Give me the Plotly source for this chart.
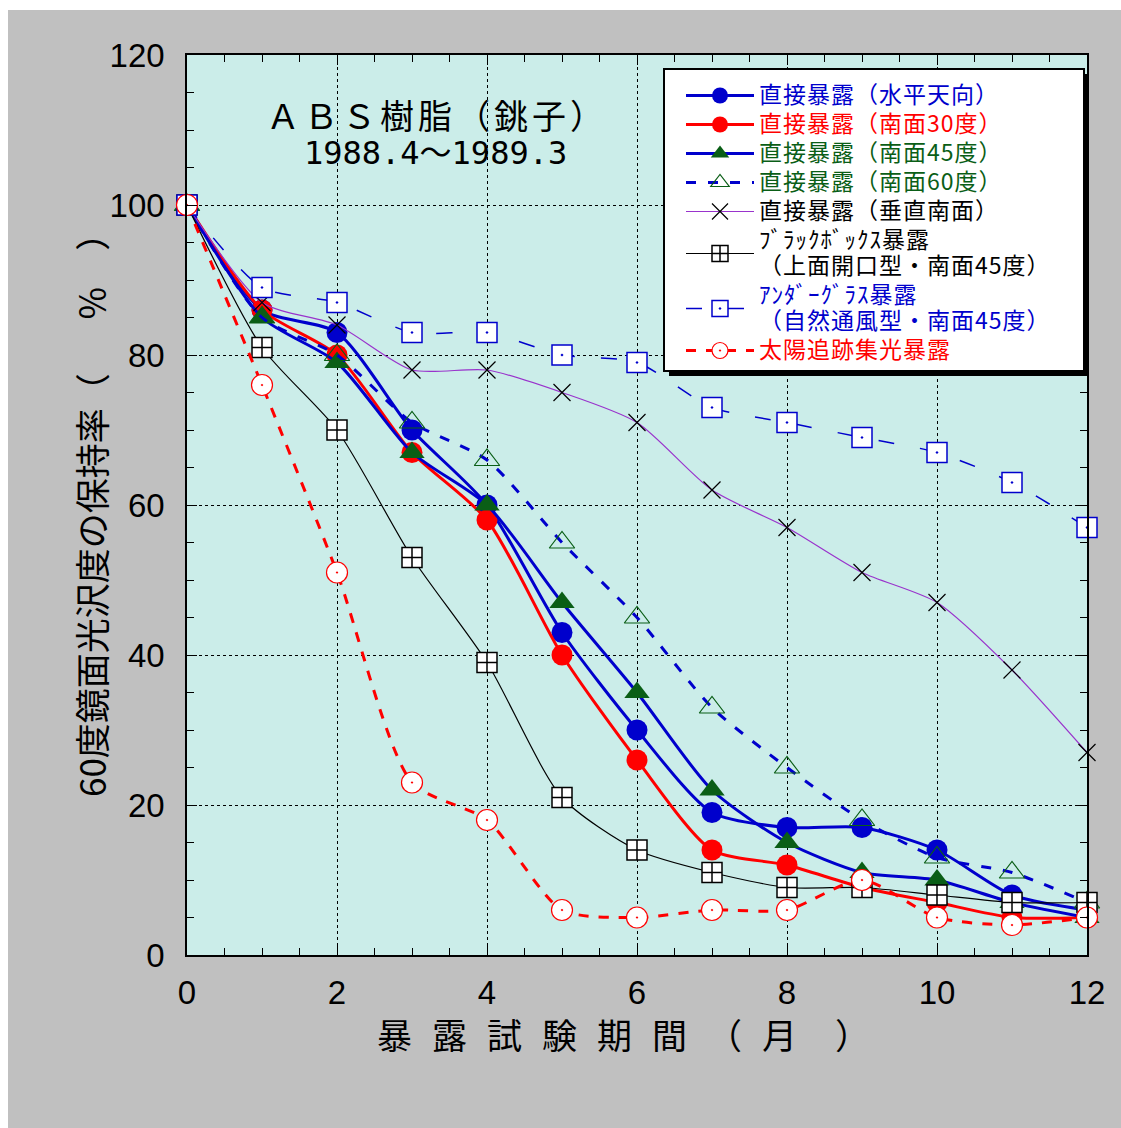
import plotly.graph_objects as go

months = list(range(13))

horiz = [100, 86, 83, 70, 60, 43, 30, 19, 17, 17, 14, 8, 6]
south30 = [100, 86, 80, 67, 58, 40, 26, 14, 12, 9, 7, 5, 5]
south45 = [100, 85, 79, 67, 60, 47, 35, 22, 15, 11, 10, 7, 5]
south60 = [100, 85, 80, 71, 66, 55, 45, 33, 25, 18, 13, 11, 7]
vertical = [100, 87, 84, 78, 78, 75, 71, 62, 57, 51, 47, 38, 27]
blackbox = [100, 81, 70, 53, 39, 21, 14, 11, 9, 9, 8, 7, 7]
underglass = [100, 89, 87, 83, 83, 80, 79, 73, 71, 69, 67, 63, 57]
suntrack = [100, 76, 51, 23, 18, 6, 5, 6, 6, 10, 5, 4, 5]

x_ticks = [0, 2, 4, 6, 8, 10, 12]
y_ticks = [0, 20, 40, 60, 80, 100, 120]

BLUE = "#0000cc"
RED = "#ff0000"
GREEN = "#0a5e16"
PURPLE = "#9933cc"
CJK = "Noto Sans CJK JP"

# page offset of the figure (body margin)
OX, OY = 8, 10
W, H = 1113, 1118
L, R, T, B = 187 - OX, 1087 - OX, 55 - OY, 955 - OY


def px(xp):
    """page x pixel -> paper x"""
    return (xp - OX - L) / (R - L)


def py(yp):
    """page y pixel -> paper y"""
    return (B - (yp - OY)) / (B - T)


LS = "font-size:23px;letter-spacing:1px"


def name(txt, color):
    return f'<span style="color:{color};{LS}">{txt}</span>'


fig = go.Figure()
sm = 0.7
fig.add_trace(go.Scatter(
    x=months, y=horiz, mode="lines+markers", cliponaxis=False,
    name=name("直接暴露（水平天向）", BLUE),
    line=dict(color=BLUE, width=3, shape="spline", smoothing=sm),
    marker=dict(symbol="circle", size=21, color=BLUE)))
fig.add_trace(go.Scatter(
    x=months, y=south30, mode="lines+markers", cliponaxis=False,
    name=name("直接暴露（南面30度）", RED),
    line=dict(color=RED, width=3, shape="spline", smoothing=sm),
    marker=dict(symbol="circle", size=21, color=RED)))
fig.add_trace(go.Scatter(
    x=months, y=south45, mode="lines+markers", cliponaxis=False,
    name=name("直接暴露（南面45度）", GREEN),
    line=dict(color=BLUE, width=3, shape="spline", smoothing=sm),
    marker=dict(symbol="triangle-up", size=22, color=GREEN)))
fig.add_trace(go.Scatter(
    x=months, y=south60, mode="lines+markers", cliponaxis=False,
    name=name("直接暴露（南面60度）", GREEN),
    line=dict(color=BLUE, width=3, dash="10px,12px", shape="spline", smoothing=sm),
    marker=dict(symbol="triangle-up-open", size=22, color=GREEN, line=dict(width=1.2, color=GREEN))))
fig.add_trace(go.Scatter(
    x=months, y=vertical, mode="lines+markers", cliponaxis=False,
    name=name("直接暴露（垂直南面）", "black"),
    line=dict(color=PURPLE, width=1.2, shape="spline", smoothing=sm),
    marker=dict(symbol="x-thin-open", size=17, color="black", line=dict(width=1.2, color="black"))))
fig.add_trace(go.Scatter(
    x=months, y=blackbox, mode="lines+markers", cliponaxis=False,
    name=name("ﾌﾞﾗｯｸﾎﾞｯｸｽ暴露<br>（上面開口型・南面45度）", "black"),
    line=dict(color="black", width=1.2, shape="spline", smoothing=sm),
    marker=dict(symbol="square-cross", size=20, color="white", line=dict(width=1.5, color="black"))))
fig.add_trace(go.Scatter(
    x=months, y=underglass, mode="lines+markers", cliponaxis=False,
    name=name("ｱﾝﾀﾞｰｸﾞﾗｽ暴露<br>（自然通風型・南面45度）", BLUE),
    line=dict(color=BLUE, width=1.5, dash="16px,26px", shape="spline", smoothing=sm),
    marker=dict(symbol="square-dot", size=20, color="white", line=dict(width=1.5, color=BLUE))))
fig.add_trace(go.Scatter(
    x=months, y=suntrack, mode="lines+markers", cliponaxis=False,
    name=name("太陽追跡集光暴露", RED),
    line=dict(color=RED, width=3, dash="10px,10px", shape="spline", smoothing=sm),
    marker=dict(symbol="circle-dot", size=21, color="white", line=dict(width=1.2, color=RED))))

axis_common = dict(
    showline=True, linecolor="black", linewidth=1.5, mirror="ticks",
    ticks="inside", ticklen=10, tickcolor="black", tickwidth=1,
    showgrid=True, gridcolor="black", gridwidth=1, griddash="3px,3px",
    zeroline=False,
    tickfont=dict(family="Arial, Liberation Sans", size=33, color="black"),
)

fig.update_xaxes(range=[0, 12], tickvals=x_ticks, ticklabelstandoff=8,
                 minor=dict(ticks="inside", dtick=0.5, ticklen=7, tickcolor="black", showgrid=False),
                 **axis_common)
fig.update_yaxes(range=[0, 120], tickvals=y_ticks, ticklabelstandoff=14,
                 minor=dict(ticks="inside", dtick=5, ticklen=7, tickcolor="black", showgrid=False),
                 **axis_common)

shapes = [
    # legend shadow and box
    dict(type="rect", xref="paper", yref="paper", x0=px(669), x1=px(1089), y0=py(74), y1=py(376),
         fillcolor="black", line=dict(width=0), layer="above"),
    dict(type="rect", xref="paper", yref="paper", x0=px(664), x1=px(1084), y0=py(69), y1=py(371),
         fillcolor="white", line=dict(width=2, color="black"), layer="above"),
]

xtitle = ('<span style="letter-spacing:20px">暴露試験期間（</span>'
          '<span style="letter-spacing:38px">月</span>'
          '<span style="letter-spacing:20px">）</span>')

annotations = [
    dict(text='<span style="letter-spacing:4px">ＡＢＳ樹脂（銚子）</span>',
         x=3.33, y=112.1, xref="x", yref="y", showarrow=False,
         xanchor="center", yanchor="middle",
         font=dict(family=CJK, size=34, color="black")),
    dict(text="1988.4～1989.3", x=3.31, y=106.9, xref="x", yref="y", showarrow=False,
         xanchor="center", yanchor="middle",
         font=dict(family="DejaVu Sans Mono, Noto Sans CJK JP", size=32, color="black")),
    dict(text=xtitle,
         x=px(633), y=py(1033), xref="paper", yref="paper", showarrow=False,
         xanchor="center", yanchor="middle",
         font=dict(family=CJK, size=35, color="black")),
    dict(text="60度鏡面光沢度の保持率（\u3000\u2002％\u3000）", x=px(90), y=py(507),
         xref="paper", yref="paper", showarrow=False, textangle=-90,
         xanchor="center", yanchor="middle",
         font=dict(family=CJK, size=35, color="black")),
]

fig.update_layout(
    width=W, height=H,
    margin=dict(l=L, r=W - R, t=T, b=H - B, pad=0),
    paper_bgcolor="#c0c0c0",
    plot_bgcolor="#cbede9",
    showlegend=True,
    legend=dict(x=px(681), y=py(76), xanchor="left", yanchor="top",
                bgcolor="rgba(0,0,0,0)", borderwidth=0,
                font=dict(family=CJK, size=20, color="black"),
                itemwidth=68, tracegroupgap=0, itemsizing="trace"),
    shapes=shapes,
    annotations=annotations,
)

fig.write_html(
    "out.html",
    post_script="document.body.style.overflow='hidden';"
                "document.body.style.margin='10px 0 0 8px';",
)
